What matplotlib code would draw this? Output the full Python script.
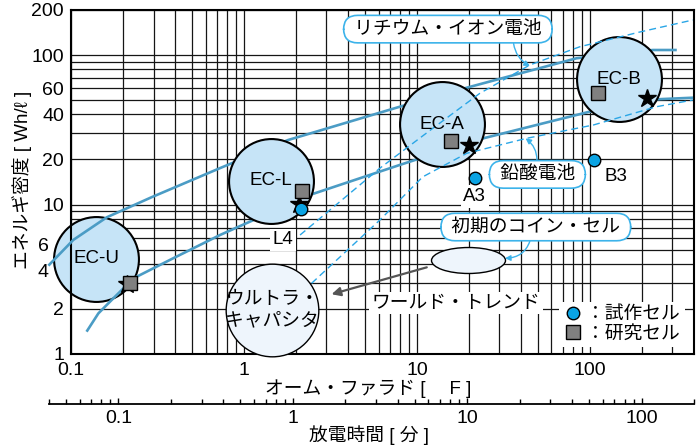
import numpy as np
import matplotlib
matplotlib.use("Agg")
import matplotlib.pyplot as plt
from matplotlib.ticker import FixedLocator, LogLocator, NullFormatter, FuncFormatter
from matplotlib.lines import Line2D
from matplotlib.path import Path

plt.rcParams['font.family'] = ['Liberation Sans', 'Noto Sans CJK JP', 'DejaVu Sans']

# ---- data (ohm-farad, Wh/l) ----
cell_names = ["EC-U", "EC-L", "EC-A", "EC-B"]
cell_x = [0.14, 1.44, 14.0, 147.0]
cell_y = [4.32, 14.4, 34.5, 68.6]

research_x = [0.219, 2.16, 15.7, 112.0]
research_y = [3.0, 12.4, 26.7, 56.0]

star_x = [0.211, 2.08, 20.0, 213.0]
star_y = [2.96, 10.1, 25.0, 51.3]

proto_names = ["L4", "A3", "B3"]
proto_x = [2.13, 21.6, 106.0]
proto_y = [9.3, 15.0, 19.9]
proto_label_x = [1.68, 21.6, 141.0]
proto_label_y = [5.79, 11.3, 15.3]

# trend curves of the EC cells
trend_hi_x = [0.074, 0.103, 0.161, 0.293, 0.726, 0.852, 1.80, 7.97, 19.8, 83.7, 231.0, 318.0]
trend_hi_y = [3.90, 5.79, 8.21, 11.2, 17.5, 18.9, 27.0, 45.1, 60.8, 95.1, 108.0, 108.0]
trend_lo_x = [0.123, 0.144, 0.172, 0.201, 0.240, 0.390, 0.727, 1.08, 2.41, 7.97, 22.1, 100.0, 248.0, 395.0]
trend_lo_y = [1.41, 1.87, 2.30, 2.75, 3.29, 4.37, 6.25, 7.67, 11.6, 18.4, 27.0, 41.8, 50.6, 51.8]

# reference batteries
liion_x = [2.11, 6.11, 11.9, 23.1, 45.0, 87.6, 194.5, 394.0]
liion_y = [6.25, 17.5, 31.3, 55.4, 85.8, 113.6, 142.5, 171.5]
lead_x = [2.46, 6.11, 10.8, 19.4, 43.0, 104.5, 243.0, 394.0]
lead_y = [2.97, 7.88, 15.3, 22.0, 27.7, 34.0, 45.1, 50.0]

ultracap_xy = (1.45, 1.97)
coin_xy = (19.7, 4.25)
world_from = (11.4, 3.80)
world_to = (3.21, 2.51)
world_label_xy = (16.8, 2.19)

y_ticks = [1, 2, 10, 20, 40, 60, 100, 200]
y_ticks_shifted = [4, 6]          # labels moved left, clear of the EC-U bubble
x_ticks = [0.1, 1, 10, 100]
t_ticks = [0.1, 1, 10, 100]

LINE_C = '#4b9cc5'
DASH_C = '#2aa6e6'
CALL_C = '#3cb3ea'
FS = 13.5
TFS = 14

fig = plt.figure(figsize=(7, 4.45), dpi=100)
ax = fig.add_axes([71 / 700, 91 / 445, 623 / 700, 344 / 445])
ax.set_xscale('log')
ax.set_yscale('log')
ax.set_xlim(0.1, 400)
ax.set_ylim(1, 200)

fmt = FuncFormatter(lambda v, p: '%g' % v)
ax.xaxis.set_major_locator(FixedLocator(x_ticks))
ax.yaxis.set_major_locator(FixedLocator(y_ticks))
ax.xaxis.set_major_formatter(fmt)
ax.yaxis.set_major_formatter(fmt)
for axis in (ax.xaxis, ax.yaxis):
    axis.set_minor_locator(LogLocator(10, subs=np.arange(2, 10), numticks=30))
    axis.set_minor_formatter(NullFormatter())
ax.tick_params(which='both', length=0, labelsize=TFS)
ax.tick_params(axis='x', pad=6)
ax.tick_params(axis='y', pad=5)
ax.set_axisbelow(True)
ax.grid(True, which='both', color='#151515', lw=0.9)
for s in ax.spines.values():
    s.set_linewidth(1.5)
for v in y_ticks_shifted:
    ax.text(-0.045, v, '%g' % v, transform=ax.get_yaxis_transform(),
            ha='center', va='top', fontsize=TFS)

# EC-U bubble sits under the trend lines, the others above them
ax.scatter([cell_x[0]], [cell_y[0]], s=3735, c='#c6e4f7', edgecolors='black',
           linewidths=1.5, zorder=2, clip_on=False)
ax.plot(trend_hi_x, trend_hi_y, color=LINE_C, lw=1.9, zorder=4, clip_on=False,
        solid_capstyle='butt')
ax.plot(trend_lo_x, trend_lo_y, color=LINE_C, lw=1.9, zorder=4, solid_capstyle='butt')
ax.scatter(cell_x[1:], cell_y[1:], s=3735, c='#c6e4f7', edgecolors='black',
           linewidths=1.5, zorder=5, clip_on=False)

ax.scatter([ultracap_xy[0]], [ultracap_xy[1]], s=4450, c='#eef5fc',
           edgecolors='black', linewidths=1.0, zorder=5, clip_on=False)
circ = Path.unit_circle()
ell = Path(circ.vertices * np.array([1.0, 0.351]), circ.codes)
ax.scatter([coin_xy[0]], [coin_xy[1]], s=(74 * 0.72) ** 2, marker=ell,
           c='#eef5fc', edgecolors='black', linewidths=1.0, zorder=5)

ax.plot(liion_x, liion_y, color=DASH_C, lw=1.0, ls=(0, (5, 3)), zorder=6)
ax.plot(lead_x, lead_y, color=DASH_C, lw=1.0, ls=(0, (5, 3)), zorder=6)

ax.plot(star_x, star_y, ls='none', marker='*', ms=13.5, color='black', zorder=7,
        clip_on=False)
ax.plot(research_x, research_y, ls='none', marker='s', ms=10, mfc='#808080',
        mec='black', mew=1.0, zorder=8)
ax.plot(proto_x, proto_y, ls='none', marker='o', ms=9, mfc='#0aa3e3',
        mec='black', mew=1.0, zorder=9)

for name, x, y in zip(cell_names, cell_x, cell_y):
    ax.text(x, y, name, ha='center', va='center', fontsize=FS, zorder=10)

for i, (name, x, y) in enumerate(zip(proto_names, proto_label_x, proto_label_y)):
    bb = dict(boxstyle='square,pad=0.15', fc='white', ec='none') if i < 2 else None
    ax.text(x, y, name, ha='center', va='center', fontsize=FS, zorder=3, bbox=bb)

ax.text(ultracap_xy[0], ultracap_xy[1], 'ウルトラ・\nキャパシタ', ha='center',
        va='center', fontsize=FS, linespacing=1.3, zorder=10)

# world trend arrow
ax.annotate('', xy=world_to, xytext=world_from, zorder=6,
            arrowprops=dict(arrowstyle='-|>', color='#555555', lw=1.6,
                            mutation_scale=13, shrinkA=0, shrinkB=0))
ax.text(world_label_xy[0], world_label_xy[1], 'ワールド・トレンド', ha='center',
        va='center', fontsize=FS, zorder=3,
        bbox=dict(boxstyle='square,pad=0.15', fc='white', ec='none'))

# speech-bubble callouts
def callout(text, center, tip, relpos, rad):
    ax.annotate(text, xy=tip, xytext=center, ha='center', va='center',
                fontsize=FS, zorder=11,
                bbox=dict(boxstyle='round,pad=0.28,rounding_size=0.75',
                          fc='white', ec=CALL_C, lw=1.2),
                arrowprops=dict(arrowstyle='-|>', color=CALL_C, lw=1.0,
                                mutation_scale=8, shrinkA=0, shrinkB=0,
                                relpos=relpos,
                                connectionstyle='arc3,rad=%g' % rad))

callout(' リチウム・イオン電池 ', (15.1, 149), (45.0, 84.4), (0.83, 0.0), 0.3)
callout(' 鉛酸電池 ', (49.7, 15.9), (42.5, 27.7), (0.49, 1.0), 0.3)
callout(' 初期のコイン・セル ', (48.7, 7.07), (32.3, 4.37), (0.475, 0.0), -0.4)

handles = [Line2D([], [], ls='none', marker='o', ms=9, mfc='#0aa3e3', mec='black'),
           Line2D([], [], ls='none', marker='s', ms=10, mfc='#808080', mec='black')]
leg = ax.legend(handles, ['：試作セル', '：研究セル'], loc='lower right',
                bbox_to_anchor=(0.985, 0.02), frameon=True, fancybox=False,
                edgecolor='none', facecolor='white', framealpha=1.0,
                handlelength=1.0, handletextpad=0.2, borderpad=0.25,
                labelspacing=0.1, fontsize=FS, borderaxespad=0)
leg.set_zorder(3)

# discharge-time scale
ax2 = fig.add_axes([49 / 700, 41 / 445, 645 / 700, 1e-4])
ax2.set_xscale('log')
ax2.set_xlim(0.04, 200)
ax2.set_yticks([])
for k in ('top', 'left', 'right'):
    ax2.spines[k].set_visible(False)
ax2.spines['bottom'].set_linewidth(1.3)
ax2.patch.set_visible(False)
ax2.xaxis.set_major_locator(FixedLocator(t_ticks))
ax2.xaxis.set_major_formatter(fmt)
ax2.xaxis.set_minor_locator(LogLocator(10, subs=np.arange(2, 10), numticks=30))
ax2.xaxis.set_minor_formatter(NullFormatter())
ax2.tick_params(axis='x', which='major', direction='in', length=4.5, width=1.0,
                labelsize=TFS, pad=4)
ax2.tick_params(axis='x', which='minor', direction='in', length=3.5, width=1.0)

fig.text(368 / 700, 1 - 389 / 445, 'オーム・ファラド [　 F ]', ha='center',
         va='center', fontsize=FS)
fig.text(369 / 700, 1 - 435 / 445, '放電時間 [ 分 ]', ha='center', va='center',
         fontsize=FS)
fig.text(22 / 700, 1 - 180 / 445, 'エネルギ密度 [ Wh/ℓ ]', rotation=90,
         ha='center', va='center', fontsize=FS)

fig.savefig('out.png', dpi=100)
